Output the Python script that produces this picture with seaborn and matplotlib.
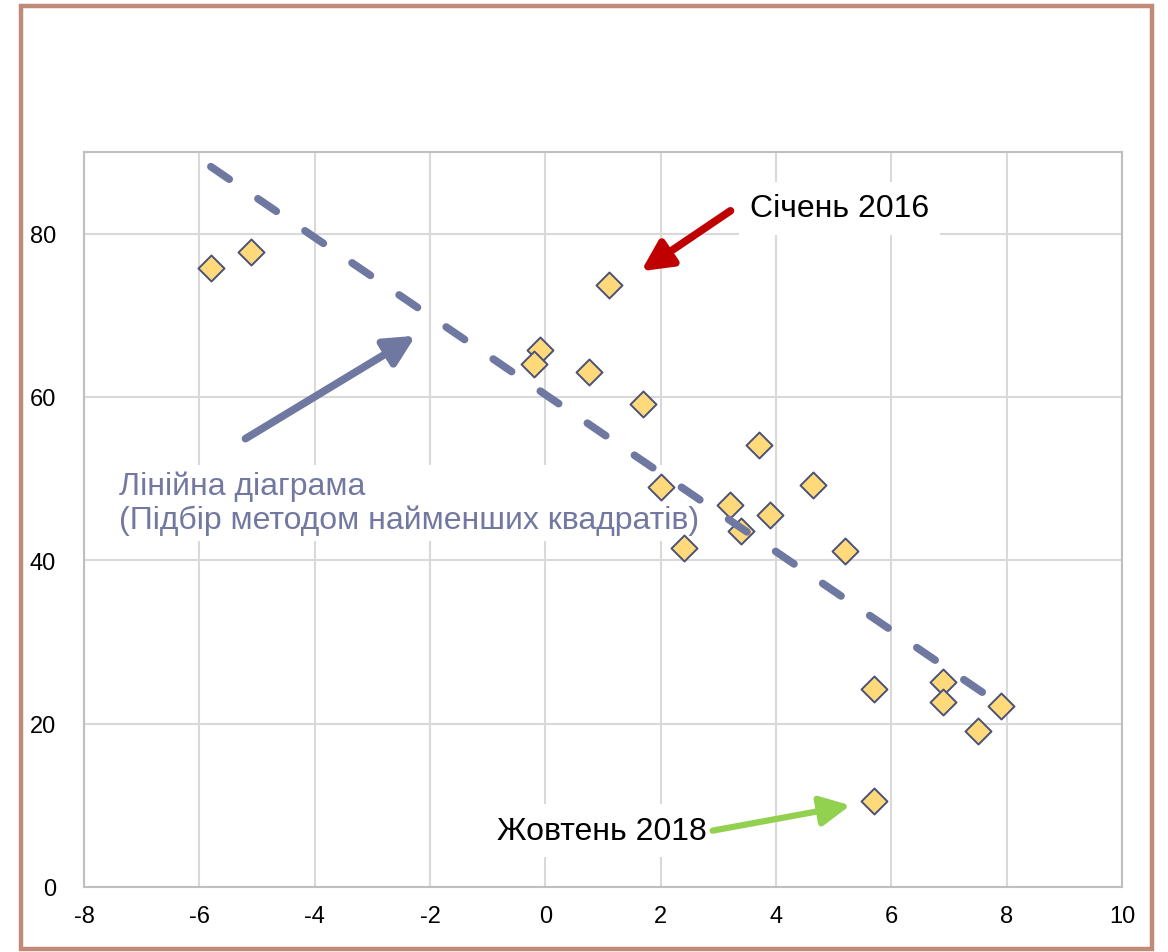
import matplotlib
matplotlib.use("Agg")
import matplotlib.pyplot as plt
import seaborn as sns
import pandas as pd
from matplotlib.patches import Rectangle

# ---- data ----
x_vals = [-5.8, -5.1, 1.1, -0.1, -0.2, 0.75, 1.7, 3.7, 2.0, 4.65, 3.2, 3.9,
          3.4, 2.4, 5.2, 5.7, 6.9, 6.9, 7.9, 7.5, 5.7]
y_vals = [75.8, 77.7, 73.7, 65.8, 64.0, 63.1, 59.2, 54.1, 49.0, 49.2, 46.8, 45.5,
          43.6, 41.5, 41.2, 24.3, 25.1, 22.7, 22.2, 19.1, 10.5]
trend_x = [-5.8, 7.9]
trend_y = [88.2, 22.3]
x_ticks = [-8, -6, -4, -2, 0, 2, 4, 6, 8, 10]
y_ticks = [0, 20, 40, 60, 80]
label_jan = "Січень 2016"
label_oct = "Жовтень 2018"
label_fit = "Лінійна діаграма\n(Підбір методом найменших квадратів)"

df = pd.DataFrame({"x": x_vals, "y": y_vals})

sns.set_theme(style="white")
plt.rcParams["font.family"] = ["Liberation Sans", "DejaVu Sans"]
plt.rcParams["axes.unicode_minus"] = False
plt.rcParams["lines.scale_dashes"] = False

W, H = 1168, 953
fig = plt.figure(figsize=(W / 100, H / 100), dpi=100)
ax = fig.add_axes([84 / W, 1 - 888 / H, (1122 - 84) / W, (888 - 153) / H])

# scatter
sns.scatterplot(data=df, x="x", y="y", ax=ax, marker="D", s=175,
                color="#FFD97A", edgecolor="#4A5278", linewidth=1.4, zorder=3)

# trend line
sns.lineplot(x=trend_x, y=trend_y, ax=ax, color="#6E78A0", linewidth=5.5,
             zorder=4, sort=False)
ln = ax.lines[-1]
ln.set_dashes((16, 25))
ln.set_dash_capstyle("round")
ln.set_solid_capstyle("round")

ax.set_xlim(-8, 10)
ax.set_ylim(0, 90)
ax.set_xticks(x_ticks)
ax.set_xticklabels([str(t) for t in x_ticks])
ax.set_yticks(y_ticks)
ax.set_yticklabels([str(t) for t in y_ticks])
ax.set_xlabel("")
ax.set_ylabel("")
ax.tick_params(axis="both", length=0, labelsize=17, colors="black")
ax.tick_params(axis="x", pad=13)
ax.tick_params(axis="y", pad=20)
ax.grid(True, color="#D9D9D9", linewidth=1.5, zorder=0)
ax.set_axisbelow(True)
for sp in ax.spines.values():
    sp.set_visible(True)
    sp.set_color("#BFBFBF")
    sp.set_linewidth(1.5)

# annotations text (white boxes hide the grid)
box = dict(facecolor="white", edgecolor="none", pad=8)
ax.text(3.55, 83.1, label_jan, fontsize=23, color="black", ha="left",
        va="center", bbox=box, zorder=1.5)
ax.text(-0.83, 6.9, label_oct, fontsize=23, color="black", ha="left",
        va="center", bbox=box, zorder=1.5)
ax.text(-7.4, 47.0, label_fit, fontsize=23, color="#7378A0", ha="left",
        va="center", linespacing=1.15, bbox=dict(facecolor="white", edgecolor="none", pad=4),
        zorder=1.5)

# arrows
ax.annotate("", xy=(1.66, 75.4), xytext=(3.21, 82.8),
            arrowprops=dict(arrowstyle="-|>,head_length=1.5,head_width=0.75",
                            color="#C00000", lw=5.5, shrinkA=0, shrinkB=0),
            zorder=5)
ax.annotate("", xy=(-2.25, 67.5), xytext=(-5.2, 54.9),
            arrowprops=dict(arrowstyle="-|>,head_length=1.5,head_width=0.75",
                            color="#6E78A0", lw=5.5, shrinkA=0, shrinkB=0),
            zorder=5)
ax.annotate("", xy=(5.29, 10.0), xytext=(2.9, 6.9),
            arrowprops=dict(arrowstyle="-|>,head_length=1.5,head_width=0.75",
                            color="#92D050", lw=4.5, shrinkA=0, shrinkB=0),
            zorder=5)

# outer frame
fig.patches.append(Rectangle((21 / W, 1 - 950 / H), (1152 - 21) / W, (950 - 7) / H,
                             transform=fig.transFigure, fill=False,
                             edgecolor="#BF8A78", linewidth=3.2, zorder=10))

fig.savefig("out.png", dpi=100)
